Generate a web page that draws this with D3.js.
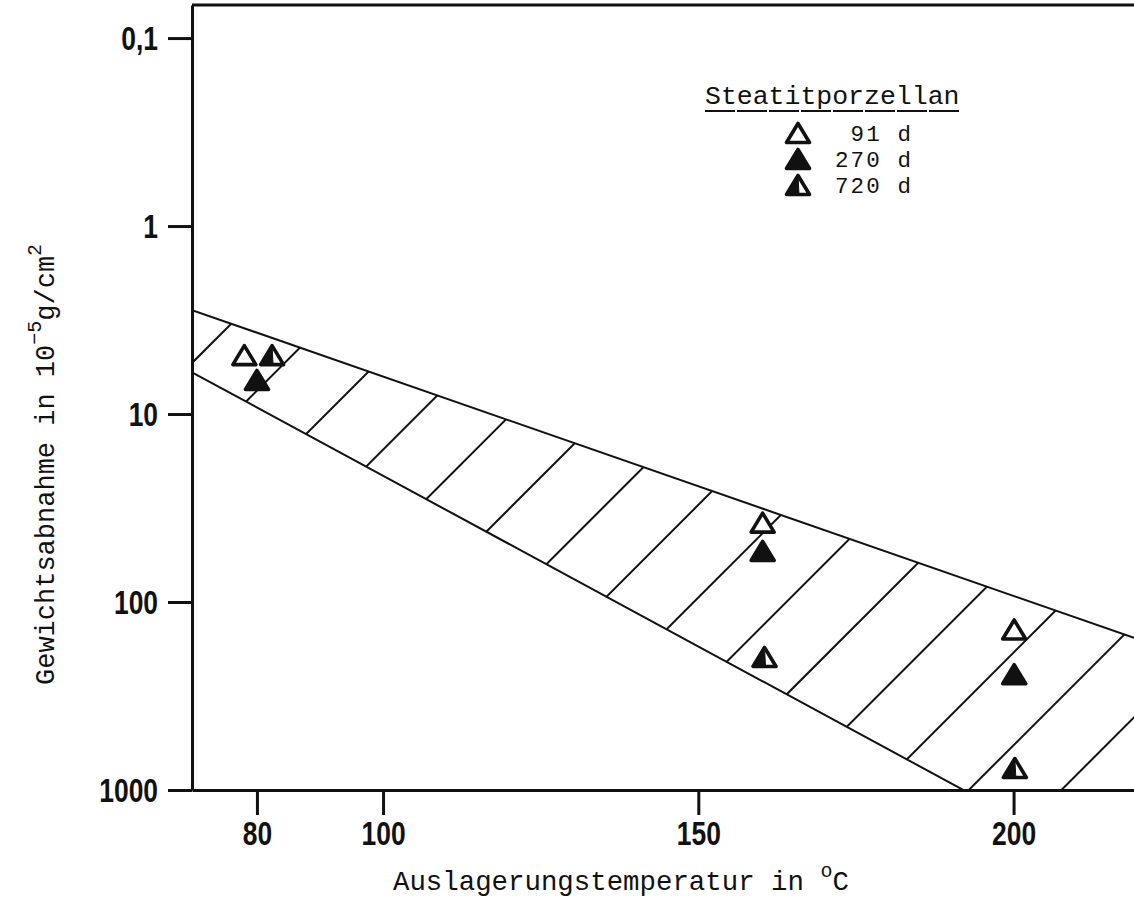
<!DOCTYPE html>
<html>
<head>
<meta charset="utf-8">
<script src="https://cdn.jsdelivr.net/npm/d3@7"></script>
<style>
  body { margin: 0; background: #fff; }
  svg { display: block; }
  .tick text { font-family: 'Liberation Sans', Arial, sans-serif; font-weight: bold; font-size: 33px; fill: #111; }
  .mono { font-family: 'Liberation Mono', 'Courier New', monospace; fill: #111; }
</style>
</head>
<body>
<div id="chart"></div>
<script>
// values
let yTicks = [0.1, 1, 10, 100, 1000]
let yTickLabels = ['0,1', '1', '10', '100', '1000']
let xTicks = [80, 100, 150, 200]

let legendTitle = 'Steatitporzellan'
let legendLabels = [' 91 d', '270 d', '720 d']
let legendKinds = ['open', 'filled', 'half']

// weight loss (10^-5 g/cm2) vs. temperature (°C)
let temps91 = [78.0, 160.2, 200.1]
let loss91 = [4.86, 37.8, 140]
let temps270 = [80.0, 160.2, 200.1]
let loss270 = [6.59, 53.5, 242]
let temps720 = [82.4, 160.5, 200.2]
let loss720 = [4.86, 196, 764]

// scatter band edges [temperature, weight loss]
let bandUpper = [[69.7, 2.8], [219.1, 155]]
let bandLower = [[69.7, 6.0], [219.1, 3100]]

let margin = { top: 5, left: 192, right: 0, bottom: 121 }
let width = 1134 - margin.left - margin.right
let height = 911 - margin.top - margin.bottom

let svg = d3
  .select('#chart')
  .append('svg')
  .attr('width', width + margin.left + margin.right)
  .attr('height', height + margin.top + margin.bottom)

svg.append('rect').attr('width', 1134).attr('height', 911).attr('fill', '#fff')

let g = svg
  .append('g')
  .attr('transform', 'translate(' + margin.left + ',' + margin.top + ')')

let x = d3.scaleLinear().domain([69.7, 219.1]).range([0, width])
let y = d3.scaleLog().domain([0.0667, 1000]).range([0, height])

let line = d3
  .line()
  .x(d => x(d[0]))
  .y(d => y(d[1]))

// clip paths: plot area and band
let defs = svg.append('defs')
defs
  .append('clipPath')
  .attr('id', 'plot-clip')
  .append('rect')
  .attr('width', width)
  .attr('height', height)

let bandPoly = bandUpper.concat(bandLower.slice().reverse())
defs
  .append('clipPath')
  .attr('id', 'band-clip')
  .append('path')
  .attr('d', line(bandPoly) + 'Z')

// hatching, 45 degree lines
let hatchStart = 358
let hatchStep = 92.6
let hatch = d3.range(hatchStart, width + height + hatchStep, hatchStep)

g.append('g')
  .attr('clip-path', 'url(#plot-clip)')
  .append('g')
  .attr('clip-path', 'url(#band-clip)')
  .selectAll('.hatch')
  .data(hatch)
  .enter()
  .append('line')
  .attr('class', 'hatch')
  .attr('x1', d => d - 1000)
  .attr('y1', 1000)
  .attr('x2', d => d)
  .attr('y2', 0)
  .attr('stroke', '#111')
  .attr('stroke-width', 2)

// band edges
g.append('g')
  .attr('clip-path', 'url(#plot-clip)')
  .selectAll('.band')
  .data([bandUpper, bandLower])
  .enter()
  .append('path')
  .attr('class', 'band')
  .attr('d', line)
  .attr('fill', 'none')
  .attr('stroke', '#111')
  .attr('stroke-width', 2)

// axes
let yAxis = d3
  .axisLeft(y)
  .tickValues(yTicks)
  .tickFormat((d, i) => yTickLabels[i])
  .tickSize(24)
  .tickSizeOuter(0)
  .tickPadding(10)

let xAxis = d3
  .axisBottom(x)
  .tickValues(xTicks)
  .tickSize(25)
  .tickSizeOuter(0)
  .tickPadding(7)

let ya = g.append('g').call(yAxis)
let xa = g.append('g').attr('transform', 'translate(0,' + height + ')').call(xAxis)

;[ya, xa].forEach(a => {
  a.select('.domain').attr('stroke', '#111').attr('stroke-width', 3)
  a.selectAll('.tick line').attr('stroke', '#111').attr('stroke-width', 3)
})

// condensed look for the tick numbers
let squeeze = 0.8
ya.selectAll('.tick text')
  .attr('dy', '0.35em')
  .attr('x', -34 / squeeze)
  .attr('transform', 'scale(' + squeeze + ',1)')
xa.selectAll('.tick text').attr('transform', 'scale(' + squeeze + ',1)')

// top frame line
g.append('line')
  .attr('x1', 0)
  .attr('x2', width)
  .attr('y1', 0)
  .attr('y2', 0)
  .attr('stroke', '#111')
  .attr('stroke-width', 3)

// triangle markers
let triW = 23
let triH = 19

function triPath(w, h) {
  return 'M0,' + -h / 2 + 'L' + w / 2 + ',' + h / 2 + 'L' + -w / 2 + ',' + h / 2 + 'Z'
}

function drawMarker(sel, kind) {
  sel
    .append('path')
    .attr('d', triPath(triW, triH))
    .attr('fill', kind === 'filled' ? '#111' : '#fff')
    .attr('stroke', '#111')
    .attr('stroke-width', 3.6)
    .attr('stroke-linejoin', 'round')
  if (kind === 'half') {
    sel
      .append('path')
      .attr('d', 'M0,' + -triH / 2 + 'L' + -triW / 2 + ',' + triH / 2 + 'L1,' + triH / 2 + 'Z')
      .attr('fill', '#111')
      .attr('stroke', '#111')
      .attr('stroke-width', 1)
  }
}

let series = [
  { kind: 'open', temps: temps91, loss: loss91 },
  { kind: 'filled', temps: temps270, loss: loss270 },
  { kind: 'half', temps: temps720, loss: loss720 }
]

series.forEach(s => {
  g.selectAll('.pt-' + s.kind)
    .data(s.temps.map((t, i) => [t, s.loss[i]]))
    .enter()
    .append('g')
    .attr('class', 'pt-' + s.kind)
    .attr('transform', d => 'translate(' + x(d[0]) + ',' + y(d[1]) + ')')
    .each(function() {
      drawMarker(d3.select(this), s.kind)
    })
})

// legend
let legend = svg.append('g').attr('transform', 'translate(705,0)')

legend
  .append('text')
  .attr('class', 'mono')
  .attr('x', 0)
  .attr('y', 104)
  .attr('font-size', 26.5)
  .text(legendTitle)

legend
  .append('line')
  .attr('x1', 0)
  .attr('x2', 256)
  .attr('y1', 111)
  .attr('y2', 111)
  .attr('stroke', '#111')
  .attr('stroke-width', 2)
  .attr('stroke-dasharray', '30,2')

let rows = legend
  .selectAll('.legend-row')
  .data(legendLabels)
  .enter()
  .append('g')
  .attr('class', 'legend-row')
  .attr('transform', (d, i) => 'translate(0,' + (133 + i * 26) + ')')

rows.each(function(d, i) {
  let r = d3.select(this)
  let m = r.append('g').attr('transform', 'translate(93,0)')
  drawMarker(m, legendKinds[i])
  r.append('text')
    .attr('class', 'mono')
    .attr('x', 130)
    .attr('y', 8)
    .attr('font-size', 22.5)
    .attr('letter-spacing', 2.1)
    .attr('xml:space', 'preserve')
    .style('white-space', 'pre')
    .text(d)
})

// axis titles
let xTitle = svg
  .append('text')
  .attr('class', 'mono')
  .attr('x', 393)
  .attr('y', 890)
  .attr('font-size', 27.4)
xTitle.append('tspan').text('Auslagerungstemperatur in ')
xTitle.append('tspan').attr('dy', -13).attr('font-size', 20).text('o')
xTitle.append('tspan').attr('dy', 13).text('C')

let yTitle = svg
  .append('text')
  .attr('class', 'mono')
  .attr('transform', 'translate(54,685) rotate(-90)')
  .attr('font-size', 27)
yTitle.append('tspan').text('Gewichtsabnahme in 10')
yTitle.append('tspan').attr('dy', -13).attr('font-size', 20).text('\u22125')
yTitle.append('tspan').attr('dy', 13).text('g/cm')
yTitle.append('tspan').attr('dy', -13).attr('font-size', 20).text('2')
</script>
</body>
</html>
